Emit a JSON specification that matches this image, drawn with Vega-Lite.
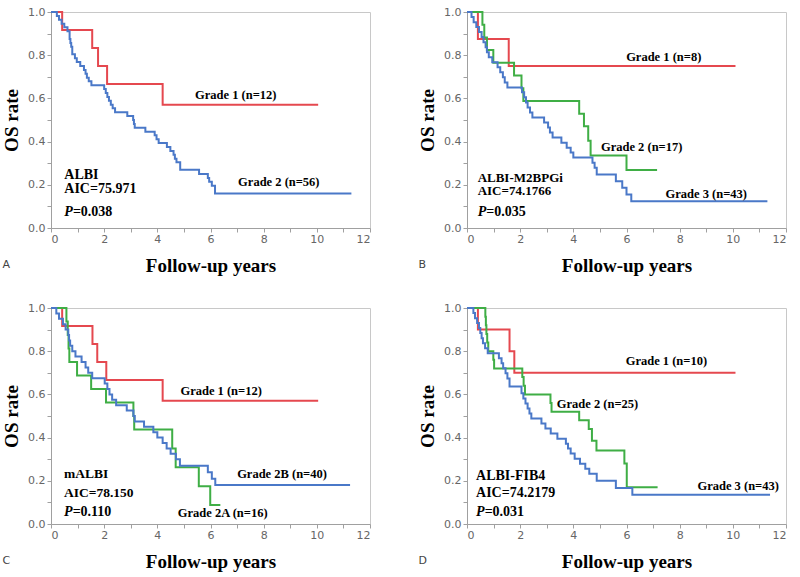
{
  "$schema": "https://vega.github.io/schema/vega-lite/v6.json",
  "background": "white",
  "padding": {"left": 2, "top": 5, "right": 5, "bottom": 5},
  "bounds": "flush",
  "columns": 2,
  "spacing": {"column": 97, "row": 80},
  "resolve": {"scale": {"color": "independent"}},
  "config": {
    "view": {"stroke": "#c8c8c8", "strokeWidth": 1},
    "axis": {
      "grid": false,
      "labelFont": "DejaVu Sans",
      "labelFontSize": 11,
      "labelColor": "#666666",
      "domainColor": "#a0a0a0",
      "tickColor": "#a0a0a0",
      "tickSize": 4,
      "titleFont": "Liberation Serif",
      "titleFontSize": 19,
      "titleFontWeight": "bold",
      "titleColor": "#000000"
    },
    "title": {"font": "DejaVu Sans", "fontSize": 11, "fontWeight": "normal", "color": "#444444", "orient": "bottom", "anchor": "start", "frame": "bounds", "offset": -16}
  },
  "datasets": {
    "curves": [
      {"panel": "A", "group": "Grade 1", "t": 0, "s": 1},
      {"panel": "A", "group": "Grade 1", "t": 0.42, "s": 0.917},
      {"panel": "A", "group": "Grade 1", "t": 1.55, "s": 0.833},
      {"panel": "A", "group": "Grade 1", "t": 1.77, "s": 0.75},
      {"panel": "A", "group": "Grade 1", "t": 2.11, "s": 0.667},
      {"panel": "A", "group": "Grade 1", "t": 4.2, "s": 0.571},
      {"panel": "A", "group": "Grade 1", "t": 10.05, "s": 0.571},

      {"panel": "A", "group": "Grade 2", "t": 0, "s": 1},
      {"panel": "A", "group": "Grade 2", "t": 0.22, "s": 0.982},
      {"panel": "A", "group": "Grade 2", "t": 0.3, "s": 0.964},
      {"panel": "A", "group": "Grade 2", "t": 0.4, "s": 0.946},
      {"panel": "A", "group": "Grade 2", "t": 0.5, "s": 0.929},
      {"panel": "A", "group": "Grade 2", "t": 0.62, "s": 0.911},
      {"panel": "A", "group": "Grade 2", "t": 0.7, "s": 0.875},
      {"panel": "A", "group": "Grade 2", "t": 0.73, "s": 0.857},
      {"panel": "A", "group": "Grade 2", "t": 0.76, "s": 0.839},
      {"panel": "A", "group": "Grade 2", "t": 0.8, "s": 0.804},
      {"panel": "A", "group": "Grade 2", "t": 0.9, "s": 0.786},
      {"panel": "A", "group": "Grade 2", "t": 0.97, "s": 0.768},
      {"panel": "A", "group": "Grade 2", "t": 1.1, "s": 0.75},
      {"panel": "A", "group": "Grade 2", "t": 1.24, "s": 0.732},
      {"panel": "A", "group": "Grade 2", "t": 1.3, "s": 0.714},
      {"panel": "A", "group": "Grade 2", "t": 1.35, "s": 0.696},
      {"panel": "A", "group": "Grade 2", "t": 1.42, "s": 0.679},
      {"panel": "A", "group": "Grade 2", "t": 1.52, "s": 0.661},
      {"panel": "A", "group": "Grade 2", "t": 2.0, "s": 0.643},
      {"panel": "A", "group": "Grade 2", "t": 2.06, "s": 0.625},
      {"panel": "A", "group": "Grade 2", "t": 2.12, "s": 0.607},
      {"panel": "A", "group": "Grade 2", "t": 2.18, "s": 0.589},
      {"panel": "A", "group": "Grade 2", "t": 2.25, "s": 0.571},
      {"panel": "A", "group": "Grade 2", "t": 2.32, "s": 0.554},
      {"panel": "A", "group": "Grade 2", "t": 2.41, "s": 0.536},
      {"panel": "A", "group": "Grade 2", "t": 2.87, "s": 0.518},
      {"panel": "A", "group": "Grade 2", "t": 3.09, "s": 0.5},
      {"panel": "A", "group": "Grade 2", "t": 3.12, "s": 0.482},
      {"panel": "A", "group": "Grade 2", "t": 3.15, "s": 0.464},
      {"panel": "A", "group": "Grade 2", "t": 3.55, "s": 0.446},
      {"panel": "A", "group": "Grade 2", "t": 3.9, "s": 0.429},
      {"panel": "A", "group": "Grade 2", "t": 3.97, "s": 0.411},
      {"panel": "A", "group": "Grade 2", "t": 4.05, "s": 0.393},
      {"panel": "A", "group": "Grade 2", "t": 4.36, "s": 0.375},
      {"panel": "A", "group": "Grade 2", "t": 4.49, "s": 0.357},
      {"panel": "A", "group": "Grade 2", "t": 4.61, "s": 0.339},
      {"panel": "A", "group": "Grade 2", "t": 4.66, "s": 0.321},
      {"panel": "A", "group": "Grade 2", "t": 4.72, "s": 0.304},
      {"panel": "A", "group": "Grade 2", "t": 4.86, "s": 0.27},
      {"panel": "A", "group": "Grade 2", "t": 5.57, "s": 0.25},
      {"panel": "A", "group": "Grade 2", "t": 5.9, "s": 0.232},
      {"panel": "A", "group": "Grade 2", "t": 5.95, "s": 0.214},
      {"panel": "A", "group": "Grade 2", "t": 6.05, "s": 0.196},
      {"panel": "A", "group": "Grade 2", "t": 6.17, "s": 0.16},
      {"panel": "A", "group": "Grade 2", "t": 11.3, "s": 0.16},

      {"panel": "B", "group": "Grade 1", "t": 0, "s": 1},
      {"panel": "B", "group": "Grade 1", "t": 0.41, "s": 0.875},
      {"panel": "B", "group": "Grade 1", "t": 1.57, "s": 0.75},
      {"panel": "B", "group": "Grade 1", "t": 10.1, "s": 0.75},

      {"panel": "B", "group": "Grade 2", "t": 0, "s": 1},
      {"panel": "B", "group": "Grade 2", "t": 0.58, "s": 0.941},
      {"panel": "B", "group": "Grade 2", "t": 0.65, "s": 0.882},
      {"panel": "B", "group": "Grade 2", "t": 0.75, "s": 0.824},
      {"panel": "B", "group": "Grade 2", "t": 0.99, "s": 0.765},
      {"panel": "B", "group": "Grade 2", "t": 1.77, "s": 0.706},
      {"panel": "B", "group": "Grade 2", "t": 2.05, "s": 0.647},
      {"panel": "B", "group": "Grade 2", "t": 2.12, "s": 0.588},
      {"panel": "B", "group": "Grade 2", "t": 4.22, "s": 0.529},
      {"panel": "B", "group": "Grade 2", "t": 4.4, "s": 0.471},
      {"panel": "B", "group": "Grade 2", "t": 4.56, "s": 0.404},
      {"panel": "B", "group": "Grade 2", "t": 4.65, "s": 0.336},
      {"panel": "B", "group": "Grade 2", "t": 6.0, "s": 0.269},
      {"panel": "B", "group": "Grade 2", "t": 7.15, "s": 0.269},

      {"panel": "B", "group": "Grade 3", "t": 0, "s": 1},
      {"panel": "B", "group": "Grade 3", "t": 0.17, "s": 0.977},
      {"panel": "B", "group": "Grade 3", "t": 0.25, "s": 0.953},
      {"panel": "B", "group": "Grade 3", "t": 0.35, "s": 0.93},
      {"panel": "B", "group": "Grade 3", "t": 0.45, "s": 0.907},
      {"panel": "B", "group": "Grade 3", "t": 0.55, "s": 0.884},
      {"panel": "B", "group": "Grade 3", "t": 0.62, "s": 0.86},
      {"panel": "B", "group": "Grade 3", "t": 0.7, "s": 0.837},
      {"panel": "B", "group": "Grade 3", "t": 0.75, "s": 0.814},
      {"panel": "B", "group": "Grade 3", "t": 0.82, "s": 0.791},
      {"panel": "B", "group": "Grade 3", "t": 0.95, "s": 0.767},
      {"panel": "B", "group": "Grade 3", "t": 1.15, "s": 0.744},
      {"panel": "B", "group": "Grade 3", "t": 1.25, "s": 0.721},
      {"panel": "B", "group": "Grade 3", "t": 1.35, "s": 0.698},
      {"panel": "B", "group": "Grade 3", "t": 1.42, "s": 0.674},
      {"panel": "B", "group": "Grade 3", "t": 1.52, "s": 0.651},
      {"panel": "B", "group": "Grade 3", "t": 2.07, "s": 0.628},
      {"panel": "B", "group": "Grade 3", "t": 2.15, "s": 0.605},
      {"panel": "B", "group": "Grade 3", "t": 2.22, "s": 0.581},
      {"panel": "B", "group": "Grade 3", "t": 2.28, "s": 0.558},
      {"panel": "B", "group": "Grade 3", "t": 2.37, "s": 0.535},
      {"panel": "B", "group": "Grade 3", "t": 2.46, "s": 0.512},
      {"panel": "B", "group": "Grade 3", "t": 2.9, "s": 0.488},
      {"panel": "B", "group": "Grade 3", "t": 3.05, "s": 0.465},
      {"panel": "B", "group": "Grade 3", "t": 3.12, "s": 0.442},
      {"panel": "B", "group": "Grade 3", "t": 3.22, "s": 0.419},
      {"panel": "B", "group": "Grade 3", "t": 3.55, "s": 0.395},
      {"panel": "B", "group": "Grade 3", "t": 3.75, "s": 0.372},
      {"panel": "B", "group": "Grade 3", "t": 3.9, "s": 0.349},
      {"panel": "B", "group": "Grade 3", "t": 4.0, "s": 0.326},
      {"panel": "B", "group": "Grade 3", "t": 4.72, "s": 0.302},
      {"panel": "B", "group": "Grade 3", "t": 4.8, "s": 0.279},
      {"panel": "B", "group": "Grade 3", "t": 4.88, "s": 0.248},
      {"panel": "B", "group": "Grade 3", "t": 5.6, "s": 0.217},
      {"panel": "B", "group": "Grade 3", "t": 5.84, "s": 0.186},
      {"panel": "B", "group": "Grade 3", "t": 6.0, "s": 0.155},
      {"panel": "B", "group": "Grade 3", "t": 6.18, "s": 0.124},
      {"panel": "B", "group": "Grade 3", "t": 11.3, "s": 0.124},

      {"panel": "C", "group": "Grade 1", "t": 0, "s": 1},
      {"panel": "C", "group": "Grade 1", "t": 0.42, "s": 0.917},
      {"panel": "C", "group": "Grade 1", "t": 1.56, "s": 0.833},
      {"panel": "C", "group": "Grade 1", "t": 1.74, "s": 0.75},
      {"panel": "C", "group": "Grade 1", "t": 2.08, "s": 0.667},
      {"panel": "C", "group": "Grade 1", "t": 4.2, "s": 0.571},
      {"panel": "C", "group": "Grade 1", "t": 10.05, "s": 0.571},

      {"panel": "C", "group": "Grade 2A", "t": 0, "s": 1},
      {"panel": "C", "group": "Grade 2A", "t": 0.58, "s": 0.9375},
      {"panel": "C", "group": "Grade 2A", "t": 0.63, "s": 0.875},
      {"panel": "C", "group": "Grade 2A", "t": 0.66, "s": 0.8125},
      {"panel": "C", "group": "Grade 2A", "t": 0.69, "s": 0.75},
      {"panel": "C", "group": "Grade 2A", "t": 0.98, "s": 0.6875},
      {"panel": "C", "group": "Grade 2A", "t": 1.51, "s": 0.625},
      {"panel": "C", "group": "Grade 2A", "t": 2.07, "s": 0.5625},
      {"panel": "C", "group": "Grade 2A", "t": 3.1, "s": 0.5},
      {"panel": "C", "group": "Grade 2A", "t": 3.13, "s": 0.4375},
      {"panel": "C", "group": "Grade 2A", "t": 4.56, "s": 0.35},
      {"panel": "C", "group": "Grade 2A", "t": 4.69, "s": 0.263},
      {"panel": "C", "group": "Grade 2A", "t": 5.56, "s": 0.175},
      {"panel": "C", "group": "Grade 2A", "t": 5.99, "s": 0.0875},
      {"panel": "C", "group": "Grade 2A", "t": 6.37, "s": 0.0875},

      {"panel": "C", "group": "Grade 2B", "t": 0, "s": 1},
      {"panel": "C", "group": "Grade 2B", "t": 0.2, "s": 0.975},
      {"panel": "C", "group": "Grade 2B", "t": 0.3, "s": 0.95},
      {"panel": "C", "group": "Grade 2B", "t": 0.45, "s": 0.925},
      {"panel": "C", "group": "Grade 2B", "t": 0.55, "s": 0.9},
      {"panel": "C", "group": "Grade 2B", "t": 0.65, "s": 0.875},
      {"panel": "C", "group": "Grade 2B", "t": 0.68, "s": 0.85},
      {"panel": "C", "group": "Grade 2B", "t": 0.72, "s": 0.825},
      {"panel": "C", "group": "Grade 2B", "t": 0.8, "s": 0.8},
      {"panel": "C", "group": "Grade 2B", "t": 0.92, "s": 0.775},
      {"panel": "C", "group": "Grade 2B", "t": 1.15, "s": 0.75},
      {"panel": "C", "group": "Grade 2B", "t": 1.3, "s": 0.725},
      {"panel": "C", "group": "Grade 2B", "t": 1.4, "s": 0.7},
      {"panel": "C", "group": "Grade 2B", "t": 1.55, "s": 0.675},
      {"panel": "C", "group": "Grade 2B", "t": 2.02, "s": 0.65},
      {"panel": "C", "group": "Grade 2B", "t": 2.12, "s": 0.625},
      {"panel": "C", "group": "Grade 2B", "t": 2.2, "s": 0.6},
      {"panel": "C", "group": "Grade 2B", "t": 2.3, "s": 0.575},
      {"panel": "C", "group": "Grade 2B", "t": 2.45, "s": 0.55},
      {"panel": "C", "group": "Grade 2B", "t": 2.85, "s": 0.525},
      {"panel": "C", "group": "Grade 2B", "t": 3.1, "s": 0.5},
      {"panel": "C", "group": "Grade 2B", "t": 3.15, "s": 0.475},
      {"panel": "C", "group": "Grade 2B", "t": 3.5, "s": 0.45},
      {"panel": "C", "group": "Grade 2B", "t": 3.85, "s": 0.425},
      {"panel": "C", "group": "Grade 2B", "t": 4.0, "s": 0.4},
      {"panel": "C", "group": "Grade 2B", "t": 4.2, "s": 0.375},
      {"panel": "C", "group": "Grade 2B", "t": 4.35, "s": 0.35},
      {"panel": "C", "group": "Grade 2B", "t": 4.5, "s": 0.325},
      {"panel": "C", "group": "Grade 2B", "t": 4.7, "s": 0.3},
      {"panel": "C", "group": "Grade 2B", "t": 4.85, "s": 0.27},
      {"panel": "C", "group": "Grade 2B", "t": 5.9, "s": 0.24},
      {"panel": "C", "group": "Grade 2B", "t": 6.05, "s": 0.21},
      {"panel": "C", "group": "Grade 2B", "t": 6.18, "s": 0.18},
      {"panel": "C", "group": "Grade 2B", "t": 11.25, "s": 0.18},

      {"panel": "D", "group": "Grade 1", "t": 0, "s": 1},
      {"panel": "D", "group": "Grade 1", "t": 0.41, "s": 0.9},
      {"panel": "D", "group": "Grade 1", "t": 1.6, "s": 0.8},
      {"panel": "D", "group": "Grade 1", "t": 1.78, "s": 0.7},
      {"panel": "D", "group": "Grade 1", "t": 10.1, "s": 0.7},

      {"panel": "D", "group": "Grade 2", "t": 0, "s": 1},
      {"panel": "D", "group": "Grade 2", "t": 0.69, "s": 0.96},
      {"panel": "D", "group": "Grade 2", "t": 0.71, "s": 0.92},
      {"panel": "D", "group": "Grade 2", "t": 0.73, "s": 0.88},
      {"panel": "D", "group": "Grade 2", "t": 0.76, "s": 0.84},
      {"panel": "D", "group": "Grade 2", "t": 0.8, "s": 0.8},
      {"panel": "D", "group": "Grade 2", "t": 0.99, "s": 0.76},
      {"panel": "D", "group": "Grade 2", "t": 1.02, "s": 0.72},
      {"panel": "D", "group": "Grade 2", "t": 2.08, "s": 0.68},
      {"panel": "D", "group": "Grade 2", "t": 2.13, "s": 0.64},
      {"panel": "D", "group": "Grade 2", "t": 2.18, "s": 0.6},
      {"panel": "D", "group": "Grade 2", "t": 3.14, "s": 0.56},
      {"panel": "D", "group": "Grade 2", "t": 3.18, "s": 0.52},
      {"panel": "D", "group": "Grade 2", "t": 4.22, "s": 0.48},
      {"panel": "D", "group": "Grade 2", "t": 4.58, "s": 0.44},
      {"panel": "D", "group": "Grade 2", "t": 4.7, "s": 0.385},
      {"panel": "D", "group": "Grade 2", "t": 4.87, "s": 0.34},
      {"panel": "D", "group": "Grade 2", "t": 5.92, "s": 0.28},
      {"panel": "D", "group": "Grade 2", "t": 6.01, "s": 0.17},
      {"panel": "D", "group": "Grade 2", "t": 7.17, "s": 0.17},

      {"panel": "D", "group": "Grade 3", "t": 0, "s": 1},
      {"panel": "D", "group": "Grade 3", "t": 0.24, "s": 0.977},
      {"panel": "D", "group": "Grade 3", "t": 0.3, "s": 0.953},
      {"panel": "D", "group": "Grade 3", "t": 0.38, "s": 0.93},
      {"panel": "D", "group": "Grade 3", "t": 0.45, "s": 0.907},
      {"panel": "D", "group": "Grade 3", "t": 0.5, "s": 0.884},
      {"panel": "D", "group": "Grade 3", "t": 0.55, "s": 0.86},
      {"panel": "D", "group": "Grade 3", "t": 0.6, "s": 0.837},
      {"panel": "D", "group": "Grade 3", "t": 0.68, "s": 0.814},
      {"panel": "D", "group": "Grade 3", "t": 0.78, "s": 0.791},
      {"panel": "D", "group": "Grade 3", "t": 1.2, "s": 0.767},
      {"panel": "D", "group": "Grade 3", "t": 1.3, "s": 0.744},
      {"panel": "D", "group": "Grade 3", "t": 1.36, "s": 0.721},
      {"panel": "D", "group": "Grade 3", "t": 1.45, "s": 0.698},
      {"panel": "D", "group": "Grade 3", "t": 1.52, "s": 0.674},
      {"panel": "D", "group": "Grade 3", "t": 1.6, "s": 0.637},
      {"panel": "D", "group": "Grade 3", "t": 2.05, "s": 0.605},
      {"panel": "D", "group": "Grade 3", "t": 2.12, "s": 0.581},
      {"panel": "D", "group": "Grade 3", "t": 2.2, "s": 0.558},
      {"panel": "D", "group": "Grade 3", "t": 2.28, "s": 0.535},
      {"panel": "D", "group": "Grade 3", "t": 2.35, "s": 0.512},
      {"panel": "D", "group": "Grade 3", "t": 2.42, "s": 0.488},
      {"panel": "D", "group": "Grade 3", "t": 2.8, "s": 0.465},
      {"panel": "D", "group": "Grade 3", "t": 2.95, "s": 0.442},
      {"panel": "D", "group": "Grade 3", "t": 3.15, "s": 0.419},
      {"panel": "D", "group": "Grade 3", "t": 3.4, "s": 0.395},
      {"panel": "D", "group": "Grade 3", "t": 3.72, "s": 0.372},
      {"panel": "D", "group": "Grade 3", "t": 3.8, "s": 0.349},
      {"panel": "D", "group": "Grade 3", "t": 3.9, "s": 0.326},
      {"panel": "D", "group": "Grade 3", "t": 4.05, "s": 0.302},
      {"panel": "D", "group": "Grade 3", "t": 4.25, "s": 0.279},
      {"panel": "D", "group": "Grade 3", "t": 4.45, "s": 0.256},
      {"panel": "D", "group": "Grade 3", "t": 4.6, "s": 0.233},
      {"panel": "D", "group": "Grade 3", "t": 4.88, "s": 0.2},
      {"panel": "D", "group": "Grade 3", "t": 5.6, "s": 0.167},
      {"panel": "D", "group": "Grade 3", "t": 6.22, "s": 0.135},
      {"panel": "D", "group": "Grade 3", "t": 11.4, "s": 0.135}
    ],
    "notes": [
      {"panel": "A", "kind": "info", "t": 0.5, "s": 0.247, "text": "ALBI"},
      {"panel": "A", "kind": "info", "t": 0.5, "s": 0.18, "text": "AIC=75.971"},
      {"panel": "A", "kind": "p", "t": 0.5, "s": 0.074, "text": "=0.038"},
      {"panel": "A", "kind": "label", "t": 6.95, "s": 0.617, "text": "Grade 1 (n=12)"},
      {"panel": "A", "kind": "label", "t": 8.57, "s": 0.211, "text": "Grade 2 (n=56)"},
      {"panel": "B", "kind": "info", "t": 0.4, "s": 0.232, "text": "ALBI-M2BPGi"},
      {"panel": "B", "kind": "info", "t": 0.4, "s": 0.17, "text": "AIC=74.1766"},
      {"panel": "B", "kind": "p", "t": 0.4, "s": 0.074, "text": "=0.035"},
      {"panel": "B", "kind": "label", "t": 7.4, "s": 0.79, "text": "Grade 1 (n=8)"},
      {"panel": "B", "kind": "label", "t": 6.57, "s": 0.376, "text": "Grade 2 (n=17)"},
      {"panel": "B", "kind": "label", "t": 9.0, "s": 0.156, "text": "Grade 3 (n=43)"},
      {"panel": "C", "kind": "info", "t": 0.49, "s": 0.23, "text": "mALBI"},
      {"panel": "C", "kind": "info", "t": 0.49, "s": 0.145, "text": "AIC=78.150"},
      {"panel": "C", "kind": "p", "t": 0.49, "s": 0.057, "text": "=0.110"},
      {"panel": "C", "kind": "label", "t": 6.4, "s": 0.617, "text": "Grade 1 (n=12)"},
      {"panel": "C", "kind": "label", "t": 8.69, "s": 0.23, "text": "Grade 2B (n=40)"},
      {"panel": "C", "kind": "label", "t": 6.46, "s": 0.05, "text": "Grade 2A (n=16)"},
      {"panel": "D", "kind": "info", "t": 0.34, "s": 0.224, "text": "ALBI-FIB4"},
      {"panel": "D", "kind": "info", "t": 0.34, "s": 0.142, "text": "AIC=74.2179"},
      {"panel": "D", "kind": "p", "t": 0.34, "s": 0.057, "text": "=0.031"},
      {"panel": "D", "kind": "label", "t": 7.5, "s": 0.756, "text": "Grade 1 (n=10)"},
      {"panel": "D", "kind": "label", "t": 4.91, "s": 0.556, "text": "Grade 2 (n=25)"},
      {"panel": "D", "kind": "label", "t": 10.2, "s": 0.178, "text": "Grade 3 (n=43)"}
    ]
  },
  "concat": [
    {
      "width": 319, "height": 216,
      "title": {"text": "A"},
      "encoding": {
        "x": {"field": "t", "type": "quantitative", "scale": {"domain": [0, 12], "nice": false},
          "axis": {"title": "Follow-up years", "values": [0,1,2,3,4,5,6,7,8,9,10,11,12], "labelExpr": "datum.value % 2 === 0 ? datum.label : ''", "labelPadding": 1, "titlePadding": 12}},
        "y": {"field": "s", "type": "quantitative", "scale": {"domain": [0, 1], "nice": false},
          "axis": {"title": "OS rate", "values": [0,0.1,0.2,0.3,0.4,0.5,0.6,0.7,0.8,0.9,1.0], "format": ".1f", "labelExpr": "round(datum.value*10) % 2 === 0 ? datum.label : ''", "labelPadding": 2, "titlePadding": 6}}
      },
      "layer": [
        {"data": {"name": "curves"}, "transform": [{"filter": "datum.panel === 'A'"}],
         "mark": {"type": "line", "interpolate": "step-after", "strokeWidth": 2},
         "encoding": {"color": {"field": "group", "type": "nominal", "scale": {"domain": ["Grade 1", "Grade 2"], "range": ["#e5484f", "#4a78c8"]}, "legend": null}}},
        {"data": {"name": "notes"}, "transform": [{"filter": "datum.panel === 'A' && datum.kind === 'label'"}],
         "mark": {"type": "text", "font": "Liberation Serif", "fontWeight": "bold", "fontSize": 12.5, "align": "center", "baseline": "middle", "color": "#000"},
         "encoding": {"text": {"field": "text"}}},
        {"data": {"name": "notes"}, "transform": [{"filter": "datum.panel === 'A' && datum.kind === 'info'"}],
         "mark": {"type": "text", "font": "Liberation Serif", "fontWeight": "bold", "fontSize": 14, "align": "left", "baseline": "middle", "color": "#000"},
         "encoding": {"text": {"field": "text"}}},
        {"data": {"name": "notes"}, "transform": [{"filter": "datum.panel === 'A' && datum.kind === 'p'"}],
         "mark": {"type": "text", "text": "P", "font": "Liberation Serif", "fontWeight": "bold", "fontStyle": "italic", "fontSize": 14, "align": "left", "baseline": "middle", "color": "#000"}},
        {"data": {"name": "notes"}, "transform": [{"filter": "datum.panel === 'A' && datum.kind === 'p'"}],
         "mark": {"type": "text", "font": "Liberation Serif", "fontWeight": "bold", "fontSize": 14, "align": "left", "baseline": "middle", "dx": 8.6, "color": "#000"},
         "encoding": {"text": {"field": "text"}}}
      ]
    },
    {
      "width": 319, "height": 216,
      "title": {"text": "B"},
      "encoding": {
        "x": {"field": "t", "type": "quantitative", "scale": {"domain": [0, 12], "nice": false},
          "axis": {"title": "Follow-up years", "values": [0,1,2,3,4,5,6,7,8,9,10,11,12], "labelExpr": "datum.value % 2 === 0 ? datum.label : ''", "labelPadding": 1, "titlePadding": 12}},
        "y": {"field": "s", "type": "quantitative", "scale": {"domain": [0, 1], "nice": false},
          "axis": {"title": "OS rate", "values": [0,0.1,0.2,0.3,0.4,0.5,0.6,0.7,0.8,0.9,1.0], "format": ".1f", "labelExpr": "round(datum.value*10) % 2 === 0 ? datum.label : ''", "labelPadding": 2, "titlePadding": 6}}
      },
      "layer": [
        {"data": {"name": "curves"}, "transform": [{"filter": "datum.panel === 'B'"}],
         "mark": {"type": "line", "interpolate": "step-after", "strokeWidth": 2},
         "encoding": {"color": {"field": "group", "type": "nominal", "scale": {"domain": ["Grade 1", "Grade 2", "Grade 3"], "range": ["#e5484f", "#3fae45", "#4a78c8"]}, "legend": null}}},
        {"data": {"name": "notes"}, "transform": [{"filter": "datum.panel === 'B' && datum.kind === 'label'"}],
         "mark": {"type": "text", "font": "Liberation Serif", "fontWeight": "bold", "fontSize": 12.5, "align": "center", "baseline": "middle", "color": "#000"},
         "encoding": {"text": {"field": "text"}}},
        {"data": {"name": "notes"}, "transform": [{"filter": "datum.panel === 'B' && datum.kind === 'info'"}],
         "mark": {"type": "text", "font": "Liberation Serif", "fontWeight": "bold", "fontSize": 13, "align": "left", "baseline": "middle", "color": "#000"},
         "encoding": {"text": {"field": "text"}}},
        {"data": {"name": "notes"}, "transform": [{"filter": "datum.panel === 'B' && datum.kind === 'p'"}],
         "mark": {"type": "text", "text": "P", "font": "Liberation Serif", "fontWeight": "bold", "fontStyle": "italic", "fontSize": 14, "align": "left", "baseline": "middle", "color": "#000"}},
        {"data": {"name": "notes"}, "transform": [{"filter": "datum.panel === 'B' && datum.kind === 'p'"}],
         "mark": {"type": "text", "font": "Liberation Serif", "fontWeight": "bold", "fontSize": 14, "align": "left", "baseline": "middle", "dx": 8.6, "color": "#000"},
         "encoding": {"text": {"field": "text"}}}
      ]
    },
    {
      "width": 319, "height": 216,
      "title": {"text": "C"},
      "encoding": {
        "x": {"field": "t", "type": "quantitative", "scale": {"domain": [0, 12], "nice": false},
          "axis": {"title": "Follow-up years", "values": [0,1,2,3,4,5,6,7,8,9,10,11,12], "labelExpr": "datum.value % 2 === 0 ? datum.label : ''", "labelPadding": 1, "titlePadding": 12}},
        "y": {"field": "s", "type": "quantitative", "scale": {"domain": [0, 1], "nice": false},
          "axis": {"title": "OS rate", "values": [0,0.1,0.2,0.3,0.4,0.5,0.6,0.7,0.8,0.9,1.0], "format": ".1f", "labelExpr": "round(datum.value*10) % 2 === 0 ? datum.label : ''", "labelPadding": 2, "titlePadding": 6}}
      },
      "layer": [
        {"data": {"name": "curves"}, "transform": [{"filter": "datum.panel === 'C'"}],
         "mark": {"type": "line", "interpolate": "step-after", "strokeWidth": 2},
         "encoding": {"color": {"field": "group", "type": "nominal", "scale": {"domain": ["Grade 1", "Grade 2A", "Grade 2B"], "range": ["#e5484f", "#3fae45", "#4a78c8"]}, "legend": null}}},
        {"data": {"name": "notes"}, "transform": [{"filter": "datum.panel === 'C' && datum.kind === 'label'"}],
         "mark": {"type": "text", "font": "Liberation Serif", "fontWeight": "bold", "fontSize": 12.5, "align": "center", "baseline": "middle", "color": "#000"},
         "encoding": {"text": {"field": "text"}}},
        {"data": {"name": "notes"}, "transform": [{"filter": "datum.panel === 'C' && datum.kind === 'info'"}],
         "mark": {"type": "text", "font": "Liberation Serif", "fontWeight": "bold", "fontSize": 13.5, "align": "left", "baseline": "middle", "color": "#000"},
         "encoding": {"text": {"field": "text"}}},
        {"data": {"name": "notes"}, "transform": [{"filter": "datum.panel === 'C' && datum.kind === 'p'"}],
         "mark": {"type": "text", "text": "P", "font": "Liberation Serif", "fontWeight": "bold", "fontStyle": "italic", "fontSize": 14, "align": "left", "baseline": "middle", "color": "#000"}},
        {"data": {"name": "notes"}, "transform": [{"filter": "datum.panel === 'C' && datum.kind === 'p'"}],
         "mark": {"type": "text", "font": "Liberation Serif", "fontWeight": "bold", "fontSize": 14, "align": "left", "baseline": "middle", "dx": 8.6, "color": "#000"},
         "encoding": {"text": {"field": "text"}}}
      ]
    },
    {
      "width": 319, "height": 216,
      "title": {"text": "D"},
      "encoding": {
        "x": {"field": "t", "type": "quantitative", "scale": {"domain": [0, 12], "nice": false},
          "axis": {"title": "Follow-up years", "values": [0,1,2,3,4,5,6,7,8,9,10,11,12], "labelExpr": "datum.value % 2 === 0 ? datum.label : ''", "labelPadding": 1, "titlePadding": 12}},
        "y": {"field": "s", "type": "quantitative", "scale": {"domain": [0, 1], "nice": false},
          "axis": {"title": "OS rate", "values": [0,0.1,0.2,0.3,0.4,0.5,0.6,0.7,0.8,0.9,1.0], "format": ".1f", "labelExpr": "round(datum.value*10) % 2 === 0 ? datum.label : ''", "labelPadding": 2, "titlePadding": 6}}
      },
      "layer": [
        {"data": {"name": "curves"}, "transform": [{"filter": "datum.panel === 'D'"}],
         "mark": {"type": "line", "interpolate": "step-after", "strokeWidth": 2},
         "encoding": {"color": {"field": "group", "type": "nominal", "scale": {"domain": ["Grade 1", "Grade 2", "Grade 3"], "range": ["#e5484f", "#3fae45", "#4a78c8"]}, "legend": null}}},
        {"data": {"name": "notes"}, "transform": [{"filter": "datum.panel === 'D' && datum.kind === 'label'"}],
         "mark": {"type": "text", "font": "Liberation Serif", "fontWeight": "bold", "fontSize": 12.5, "align": "center", "baseline": "middle", "color": "#000"},
         "encoding": {"text": {"field": "text"}}},
        {"data": {"name": "notes"}, "transform": [{"filter": "datum.panel === 'D' && datum.kind === 'info'"}],
         "mark": {"type": "text", "font": "Liberation Serif", "fontWeight": "bold", "fontSize": 14, "align": "left", "baseline": "middle", "color": "#000"},
         "encoding": {"text": {"field": "text"}}},
        {"data": {"name": "notes"}, "transform": [{"filter": "datum.panel === 'D' && datum.kind === 'p'"}],
         "mark": {"type": "text", "text": "P", "font": "Liberation Serif", "fontWeight": "bold", "fontStyle": "italic", "fontSize": 14, "align": "left", "baseline": "middle", "color": "#000"}},
        {"data": {"name": "notes"}, "transform": [{"filter": "datum.panel === 'D' && datum.kind === 'p'"}],
         "mark": {"type": "text", "font": "Liberation Serif", "fontWeight": "bold", "fontSize": 14, "align": "left", "baseline": "middle", "dx": 8.6, "color": "#000"},
         "encoding": {"text": {"field": "text"}}}
      ]
    }
  ]
}
